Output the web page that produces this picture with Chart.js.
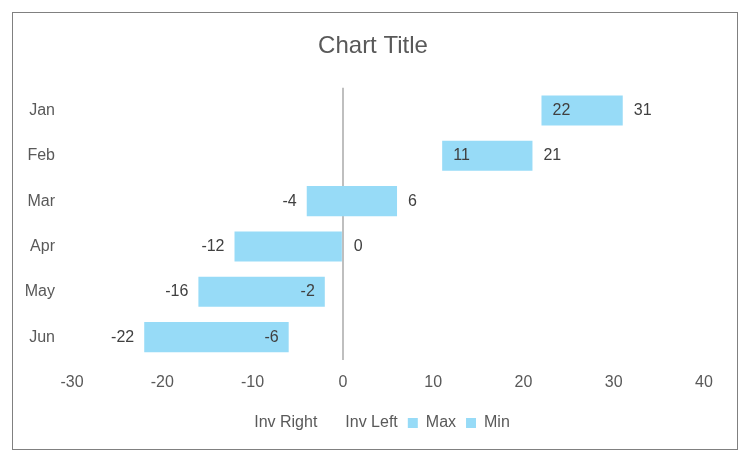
<!DOCTYPE html>
<html>
<head>
<meta charset="utf-8">
<script src="https://cdn.jsdelivr.net/npm/chart.js@4"></script>
<style>
  html, body { margin: 0; padding: 0; background: #fff; }
  #wrap { position: relative; width: 740px; height: 454px; }
  #frame { position: absolute; left: 12px; top: 12px; width: 724px; height: 436px; border: 1.5px solid #808080; pointer-events: none; }
</style>
</head>
<body>
<div id="wrap">
  <canvas id="chart" width="740" height="454"></canvas>
  <div id="frame"></div>
</div>
<script>
document.addEventListener('DOMContentLoaded', function () {

    Chart.defaults.font.family = "'Liberation Sans', sans-serif";
    Chart.defaults.color = '#595959';

    const months = ['Jan', 'Feb', 'Mar', 'Apr', 'May', 'Jun'];
    const minVals = [22, 11, -4, -12, -16, -22];
    const maxVals = [31, 21, 6, 0, -2, -6];
    const xTicks = [-30, -20, -10, 0, 10, 20, 30, 40];

    const barBlue = '#97dbf7';

    // floating bars from min to max
    const ranges = months.map((m, i) => [minVals[i], maxVals[i]]);

    // data labels: min at left end, max at right end
    const endLabels = {
        id: 'endLabels',
        afterDraw(chart) {
            const ctx = chart.ctx;
            const x = chart.scales.x;
            const meta = chart.getDatasetMeta(2);
            ctx.save();
            ctx.font = "16px 'Liberation Sans', sans-serif";
            ctx.fillStyle = '#404040';
            ctx.textBaseline = 'middle';
            meta.data.forEach((bar, i) => {
                const y = bar.y;
                const xl = x.getPixelForValue(minVals[i]);
                const xr = x.getPixelForValue(maxVals[i]);
                if (minVals[i] > 0) {
                    ctx.textAlign = 'left';
                    ctx.fillText(String(minVals[i]), xl + 11, y);
                } else {
                    ctx.textAlign = 'right';
                    ctx.fillText(String(minVals[i]), xl - 10, y);
                }
                if (maxVals[i] < 0) {
                    ctx.textAlign = 'right';
                    ctx.fillText(String(maxVals[i]), xr - 10, y);
                } else {
                    ctx.textAlign = 'left';
                    ctx.fillText(String(maxVals[i]), xr + 11, y);
                }
            });
            ctx.restore();
        }
    };

    new Chart(document.getElementById('chart').getContext('2d'), {
        type: 'bar',
        data: {
            labels: months,
            datasets: [
                { label: 'Inv Right', data: months.map(() => null), backgroundColor: 'rgba(0,0,0,0)' },
                { label: 'Inv Left', data: months.map(() => null), backgroundColor: 'rgba(0,0,0,0)' },
                { label: 'Max', data: ranges, backgroundColor: barBlue },
                { label: 'Min', data: months.map(() => null), backgroundColor: barBlue }
            ]
        },
        options: {
            indexAxis: 'y',
            responsive: false,
            animation: false,
            layout: { padding: { left: 42, right: 36, top: 0, bottom: 13 } },
            datasets: {
                bar: { grouped: false, categoryPercentage: 1, barPercentage: 0.664 }
            },
            plugins: {
                title: {
                    display: true,
                    text: 'Chart Title',
                    font: { size: 24, weight: 'normal' },
                    color: '#595959',
                    padding: { top: 32, bottom: 27 }
                },
                legend: {
                    position: 'bottom',
                    labels: {
                        boxWidth: 10,
                        boxHeight: 10,
                        padding: 10,
                        font: { size: 16 },
                        color: '#595959',
                        generateLabels(chart) {
                            return chart.data.datasets.map((ds, i) => ({
                                text: ds.label,
                                fillStyle: ds.backgroundColor,
                                strokeStyle: 'rgba(0,0,0,0)',
                                lineWidth: 0,
                                hidden: false,
                                datasetIndex: i,
                                fontColor: '#595959'
                            }));
                        }
                    }
                },
                tooltip: { enabled: false }
            },
            scales: {
                x: {
                    min: -30,
                    max: 40,
                    z: 1,
                    afterBuildTicks(scale) { scale.ticks = xTicks.map(v => ({ value: v })); },
                    ticks: { font: { size: 16 }, color: '#595959', padding: 13 },
                    grid: {
                        drawTicks: false,
                        color: c => (c.tick && c.tick.value === 0) ? '#bfbfbf' : 'rgba(0,0,0,0)',
                        lineWidth: 2
                    },
                    border: { display: false }
                },
                y: {
                    afterFit(scale) {
                        scale.width = 30;
                        // month labels sit a little left of the narrow axis box, so don't clip them
                        scale._computeLabelArea = () => null;
                    },
                    ticks: { font: { size: 16 }, color: '#595959', padding: 17 },
                    grid: { display: false, drawTicks: false },
                    border: { display: false }
                }
            }
        },
        plugins: [endLabels]
    });
});
</script>
</body>
</html>
